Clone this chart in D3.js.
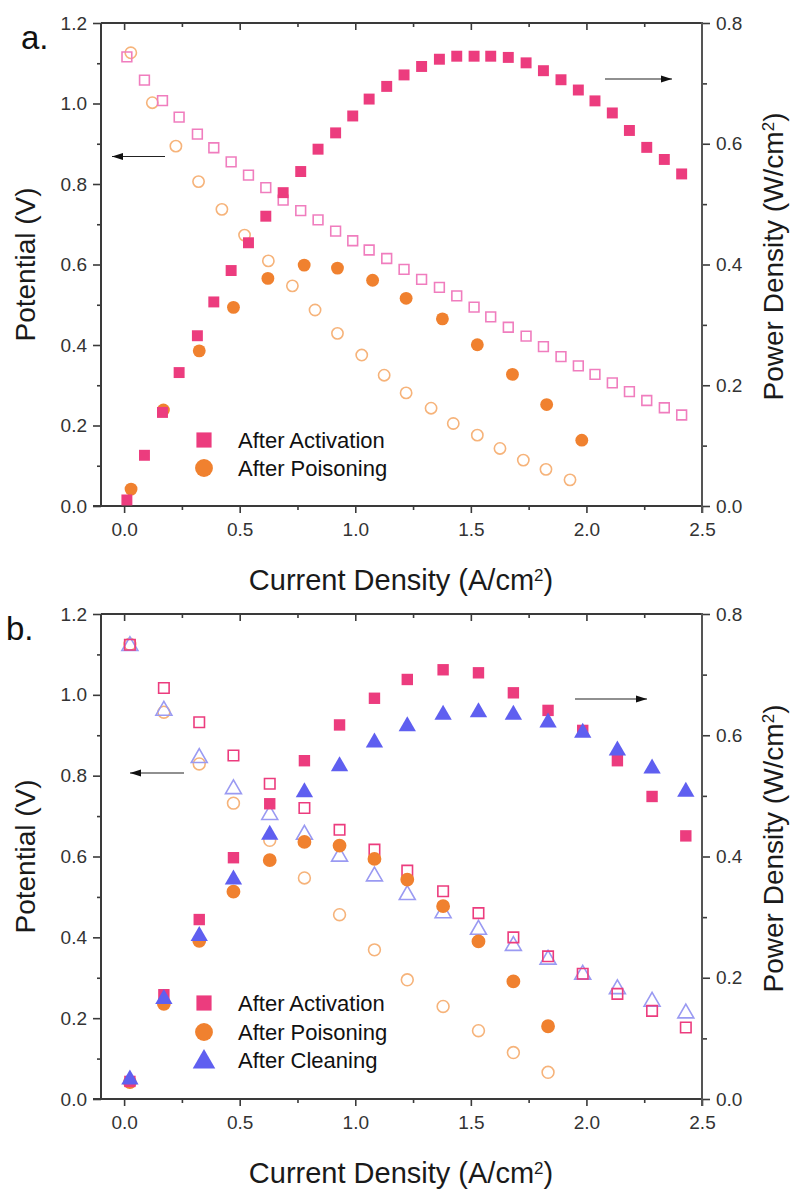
<!DOCTYPE html>
<html><head><meta charset="utf-8">
<script src="https://cdn.jsdelivr.net/npm/d3@7/dist/d3.min.js"></script>
<style>body{margin:0;background:#fff}svg{display:block}text{font-family:"Liberation Sans",Arial,sans-serif}</style>
</head><body>
<script>
// ---------- Panel a data ----------
const aActX = [0.012,0.088,0.166,0.238,0.317,0.388,0.463,0.538,0.613,0.688,0.764,0.839,0.915,0.989,1.060,1.136,1.211,1.287,1.364,1.439,1.514,1.586,1.662,1.739,1.814,1.890,1.965,2.037,2.112,2.186,2.261,2.337,2.412];
const aActV = [1.116,1.058,1.007,0.966,0.924,0.890,0.855,0.822,0.791,0.760,0.734,0.711,0.683,0.659,0.636,0.615,0.588,0.563,0.543,0.522,0.494,0.470,0.444,0.422,0.396,0.371,0.348,0.327,0.306,0.284,0.262,0.244,0.226];
const aActP = [0.010,0.084,0.155,0.221,0.282,0.338,0.390,0.436,0.480,0.519,0.554,0.591,0.618,0.646,0.674,0.695,0.714,0.728,0.740,0.745,0.745,0.745,0.743,0.734,0.721,0.706,0.689,0.671,0.651,0.622,0.594,0.574,0.550];
const aPoiVX = [0.029,0.122,0.224,0.322,0.423,0.521,0.624,0.728,0.826,0.923,1.028,1.125,1.220,1.328,1.424,1.528,1.626,1.727,1.825,1.929];
const aPoiV = [1.126,1.002,0.894,0.806,0.737,0.673,0.609,0.547,0.487,0.429,0.375,0.325,0.281,0.243,0.205,0.176,0.143,0.114,0.091,0.065];
const aPoiPX = [0.030,0.170,0.325,0.473,0.622,0.779,0.923,1.075,1.220,1.377,1.528,1.680,1.828,1.980];
const aPoiP = [0.028,0.159,0.257,0.329,0.377,0.399,0.394,0.374,0.344,0.310,0.267,0.218,0.168,0.109];

// ---------- Panel b data ----------
const bX = [0.025,0.172,0.325,0.473,0.630,0.780,0.932,1.083,1.225,1.380,1.533,1.684,1.834,1.984,2.134,2.284,2.430];
const bActV = [1.124,1.017,0.932,0.850,0.780,0.720,0.666,0.617,0.565,0.514,0.460,0.400,0.353,0.310,0.260,0.218,0.177];
const bActP = [0.029,0.172,0.296,0.398,0.487,0.558,0.617,0.661,0.692,0.708,0.703,0.670,0.641,0.608,0.558,0.499,0.434];
const bCleV = [1.121,0.961,0.844,0.767,0.703,0.654,0.600,0.551,0.505,0.460,0.419,0.379,0.345,0.308,0.272,0.241,0.212];
const bCleP = [0.032,0.165,0.269,0.362,0.436,0.506,0.549,0.588,0.615,0.634,0.638,0.634,0.621,0.604,0.575,0.545,0.507];
const bPoiX = [0.025,0.172,0.325,0.473,0.630,0.780,0.932,1.083,1.225,1.380,1.533,1.684,1.834];
const bPoiV = [1.125,0.957,0.829,0.732,0.640,0.547,0.456,0.369,0.295,0.229,0.169,0.115,0.066];
const bPoiP = [0.028,0.157,0.261,0.342,0.394,0.424,0.418,0.396,0.362,0.318,0.260,0.194,0.120];

// ---------- ticks / labels ----------
const xTicks = [0,0.5,1.0,1.5,2.0,2.5];
const xMinor = [0.25,0.75,1.25,1.75,2.25];
const vTicks = [0,0.2,0.4,0.6,0.8,1.0,1.2];
const vMinor = [0.1,0.3,0.5,0.7,0.9,1.1];
const pTicks = [0,0.2,0.4,0.6,0.8];
const pMinor = [0.1,0.3,0.5,0.7];
const legendA = ["After Activation","After Poisoning"];
const legendB = ["After Activation","After Poisoning","After Cleaning"];

const C = {
  pink:"#EC3C7E", pinkOpen:"#F07DBE",
  orange:"#F0812F", orangeOpen:"#F6B37A",
  blue:"#5F5FF0", blueOpen:"#9A9AF2"
};

const W=798,H=1193;
const svg=d3.select("body").append("svg").attr("width",W).attr("height",H);

function panel(top,bottom,label,series,legend,legendY,arrows){
  const L=101,R=702;
  const x=d3.scaleLinear().domain([-0.1,2.5]).range([L,R]);
  const yV=d3.scaleLinear().domain([0,1.2]).range([bottom,top]);
  const yP=d3.scaleLinear().domain([0,0.8]).range([bottom,top]);
  const g=svg.append("g");
  const axCol="#3a3a3a";
  const bax=g.append("g").attr("transform",`translate(0,${bottom})`)
    .call(d3.axisBottom(x).tickValues(xTicks).tickSize(7).tickFormat(d3.format(".1f")));
  g.append("g").attr("transform",`translate(0,${bottom})`)
    .call(d3.axisBottom(x).tickValues(xMinor).tickSize(4).tickFormat(""));
  g.append("g").attr("transform",`translate(0,${top})`)
    .call(d3.axisBottom(x).tickValues(xTicks.slice(0,5)).tickSize(7).tickFormat(""));
  g.append("g").attr("transform",`translate(0,${top})`)
    .call(d3.axisBottom(x).tickValues(xMinor).tickSize(4).tickFormat(""));
  g.append("g").attr("transform",`translate(${L},0)`)
    .call(d3.axisLeft(yV).tickValues(vTicks).tickSize(8).tickPadding(6).tickFormat(d3.format(".1f")));
  g.append("g").attr("transform",`translate(${L},0)`)
    .call(d3.axisLeft(yV).tickValues(vMinor).tickSize(4).tickFormat(""));
  g.append("g").attr("transform",`translate(${R},0)`)
    .call(d3.axisRight(yP).tickValues(pTicks).tickSize(8).tickPadding(6).tickFormat(d3.format(".1f")));
  g.append("g").attr("transform",`translate(${R},0)`)
    .call(d3.axisRight(yP).tickValues(pMinor).tickSize(5).tickFormat(""));
  g.selectAll(".domain").remove();
  g.selectAll(".tick line").attr("stroke",axCol).attr("stroke-width",1.6);
  g.selectAll(".tick text").attr("fill","#333").style("font-size","19px").style("font-family","'Liberation Sans',Arial,sans-serif");
  bax.selectAll(".tick text").attr("dy","1.05em");
  g.append("line").attr("x1",L).attr("x2",R).attr("y1",top).attr("y2",top).attr("stroke",axCol).attr("stroke-width",2);
  g.append("line").attr("x1",L-8).attr("x2",R).attr("y1",bottom).attr("y2",bottom).attr("stroke",axCol).attr("stroke-width",2);
  g.append("line").attr("x1",L).attr("x2",L).attr("y1",top).attr("y2",bottom+1).attr("stroke",axCol).attr("stroke-width",2);
  g.append("line").attr("x1",R).attr("x2",R).attr("y1",top-1).attr("y2",bottom+7).attr("stroke","#555").attr("stroke-width",2);

  g.append("text").attr("transform",`translate(35,${(top+bottom)/2}) rotate(-90)`)
    .attr("text-anchor","middle").style("font-size","28px").attr("fill","#1a1a1a").text("Potential (V)");
  const rt=g.append("text").attr("transform",`translate(783,${(top+bottom)/2-8}) rotate(-90)`)
    .attr("text-anchor","middle").style("font-size","28px").attr("fill","#1a1a1a");
  rt.append("tspan").text("Power Density (W/cm");
  rt.append("tspan").attr("baseline-shift","super").style("font-size","17px").text("2");
  rt.append("tspan").text(")");
  const bt=g.append("text").attr("x",401).attr("y",bottom+84)
    .attr("text-anchor","middle").style("font-size","29px").attr("fill","#1a1a1a");
  bt.append("tspan").text("Current Density (A/cm");
  bt.append("tspan").attr("baseline-shift","super").style("font-size","17px").text("2");
  bt.append("tspan").text(")");
  g.append("text").attr("x",label.x).attr("y",label.y).style("font-size","33px").attr("fill","#111").text(label.t);

  const sym={square:d3.symbolSquare,circle:d3.symbolCircle,triangle:d3.symbolTriangle};
  series.forEach(s=>{
    const yS=s.axis==="V"?yV:yP;
    const shape=d3.symbol().type(sym[s.shape]).size(s.size);
    g.append("g").selectAll("path").data(s.xs.map((d,i)=>[d,s.ys[i]])).join("path")
      .attr("transform",d=>`translate(${x(d[0])},${yS(d[1])})`)
      .attr("d",shape)
      .attr("fill",s.open?"none":s.color)
      .attr("stroke",s.open?s.color:"none")
      .attr("stroke-width",s.open?1.6:0);
  });

  legend.forEach((it,i)=>{
    const yy=legendY[i];
    g.append("path").attr("transform",`translate(204,${yy+(it.shape==="triangle"?2:0)})`)
      .attr("d",d3.symbol().type(sym[it.shape]).size(it.size)).attr("fill",it.color);
    g.append("text").attr("x",238).attr("y",yy+8).style("font-size","22px").attr("fill","#111").text(it.name);
  });

  arrows.forEach(a=>{
    g.append("line").attr("x1",a.x1).attr("x2",a.x2).attr("y1",a.y).attr("y2",a.y).attr("stroke","#222").attr("stroke-width",1.2);
    const dir=Math.sign(a.x2-a.x1);
    g.append("path").attr("d",`M${a.x2},${a.y}L${a.x2-dir*11},${a.y-3.5}L${a.x2-dir*11},${a.y+3.5}Z`).attr("fill","#111");
  });
}

panel(23,506,{x:21,y:49,t:"a."},[
  {xs:aPoiVX,ys:aPoiV,axis:"V",shape:"circle",open:true,color:C.orangeOpen,size:100},
  {xs:aActX,ys:aActV,axis:"V",shape:"square",open:true,color:C.pinkOpen,size:95},
  {xs:aPoiPX,ys:aPoiP,axis:"P",shape:"circle",open:false,color:C.orange,size:130},
  {xs:aActX,ys:aActP,axis:"P",shape:"square",open:false,color:C.pink,size:120}
],[
  {name:legendA[0],shape:"square",color:C.pink,size:230},
  {name:legendA[1],shape:"circle",color:C.orange,size:250}
],[440,468],[{x1:165,x2:112,y:156.5},{x1:605,x2:672,y:79}]);

panel(614,1099,{x:6,y:640,t:"b."},[
  {xs:bPoiX,ys:bPoiV,axis:"V",shape:"circle",open:true,color:C.orangeOpen,size:110},
  {xs:bX,ys:bCleV,axis:"V",shape:"triangle",open:true,color:C.blueOpen,size:110},
  {xs:bX,ys:bActV,axis:"V",shape:"square",open:true,color:C.pink,size:110},
  {xs:bPoiX,ys:bPoiP,axis:"P",shape:"circle",open:false,color:C.orange,size:150},
  {xs:bX,ys:bActP,axis:"P",shape:"square",open:false,color:C.pink,size:130},
  {xs:bX,ys:bCleP,axis:"P",shape:"triangle",open:false,color:C.blue,size:130}
],[
  {name:legendB[0],shape:"square",color:C.pink,size:230},
  {name:legendB[1],shape:"circle",color:C.orange,size:250},
  {name:legendB[2],shape:"triangle",color:C.blue,size:220}
],[1003,1032,1060],[{x1:184,x2:130,y:773},{x1:575,x2:647,y:699}]);
</script>
</body></html>
